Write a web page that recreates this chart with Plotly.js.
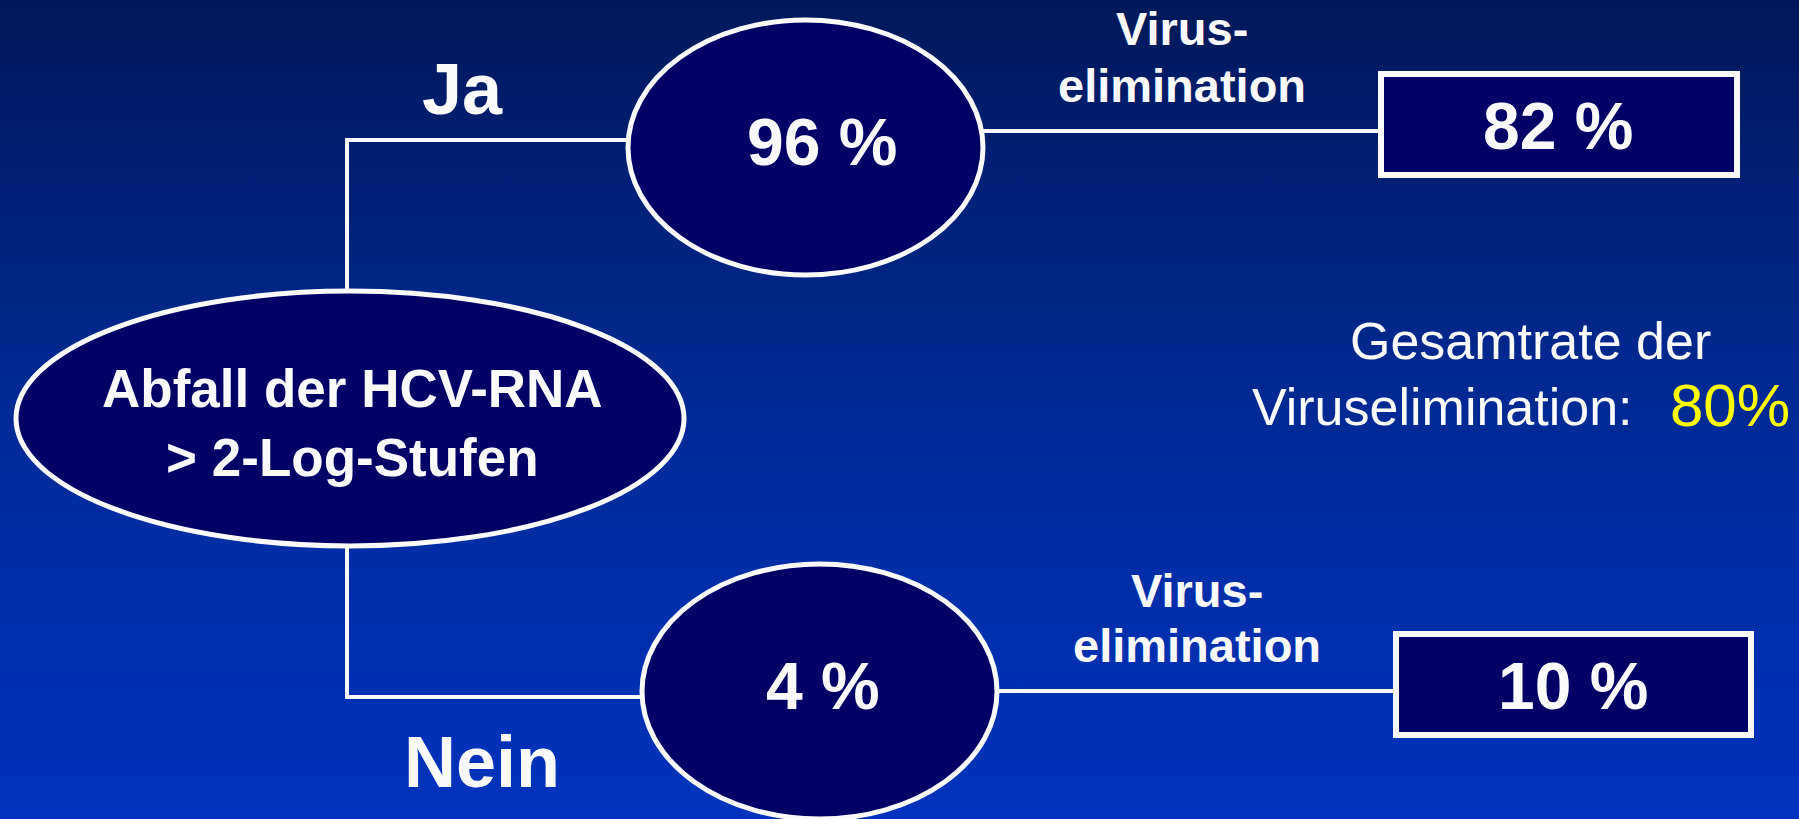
<!DOCTYPE html>
<html>
<head>
<meta charset="utf-8">
<script src="https://cdn.plot.ly/plotly-3.0.1.min.js"></script>
<style>
  html, body { margin: 0; padding: 0; }
  body {
    width: 1799px; height: 819px; overflow: hidden;
    background: linear-gradient(to bottom, #00185a 0%, #001f74 20%, #00288f 45%, #002ea8 70%, #0033bd 100%);
  }
  #chart { width: 1799px; height: 819px; }
</style>
</head>
<body>
<div id="chart"></div>
<script>
// ---- content ----
const rootLabel = ['Abfall der HCV-RNA', '> 2-Log-Stufen'];
const branchLabels = ['Ja', 'Nein'];
const responseShares = [96, 4];          // % of patients per branch
const eliminationRates = [82, 10];       // % virus elimination per branch
const eliminationLabel = ['Virus-', 'elimination'];
const overallLabel = ['Gesamtrate der', 'Viruselimination:'];
const overallRate = 80;

// ---- geometry / style (pixel coordinates, y downward) ----
const W = 1799, H = 819;
const geo = {
  root: {x0: 16, x1: 684, y0: 291, y1: 546, tx: 352, ty: 423},
  stemX: 347,
  branches: [
    {lineY: 140, ell: {x0: 628, x1: 983, y0: 20, y1: 275}, pctX: 822, pctY: 142,
     labX: 462, labY: 89, outY: 131,
     box: {x0: 1381, x1: 1737, y0: 74, y1: 175}, boxTX: 1558, boxTY: 126,
     elimX: 1182, elimY: [28, 85]},
    {lineY: 697, ell: {x0: 642, x1: 997, y0: 564, y1: 819}, pctX: 823, pctY: 686,
     labX: 482, labY: 762, outY: 691,
     box: {x0: 1396, x1: 1751, y0: 634, y1: 735}, boxTX: 1573, boxTY: 686,
     elimX: 1197, elimY: [590, 645]}
  ],
  overall: {x1: 1530, y1: 341, x2: 1250, y2: 407, xr: 1668, yr: 405}
};
const WHITE = '#fafafa', NAVY = '#000066', YELLOW = '#ffff00';
const FONT = 'Liberation Sans, Arial, Helvetica, sans-serif';

const shapes = [];
const annotations = [];
const lineStyle = {color: WHITE, width: 4};

// connectors
shapes.push({type: 'line', x0: geo.stemX, x1: geo.stemX, y0: geo.branches[0].lineY, y1: geo.root.y0, line: lineStyle});
shapes.push({type: 'line', x0: geo.stemX, x1: geo.stemX, y0: geo.root.y1, y1: geo.branches[1].lineY, line: lineStyle});

geo.branches.forEach((b, i) => {
  shapes.push({type: 'line', x0: geo.stemX - 2, x1: b.ell.x0 + 2, y0: b.lineY, y1: b.lineY, line: lineStyle});
  shapes.push({type: 'line', x0: b.ell.x1 - 2, x1: b.box.x0, y0: b.outY, y1: b.outY, line: lineStyle});
});

// root ellipse
shapes.push({type: 'circle', x0: geo.root.x0, x1: geo.root.x1, y0: geo.root.y0, y1: geo.root.y1,
  fillcolor: NAVY, line: {color: WHITE, width: 5}});
annotations.push({x: geo.root.tx, y: geo.root.ty, text: rootLabel.join('<br>'), showarrow: false,
  xanchor: 'center', yanchor: 'middle', align: 'center',
  font: {family: FONT, size: 53, color: WHITE, weight: 'bold'}});

geo.branches.forEach((b, i) => {
  shapes.push({type: 'circle', x0: b.ell.x0, x1: b.ell.x1, y0: b.ell.y0, y1: b.ell.y1,
    fillcolor: NAVY, line: {color: WHITE, width: 5}});
  shapes.push({type: 'rect', x0: b.box.x0, x1: b.box.x1, y0: b.box.y0, y1: b.box.y1,
    fillcolor: NAVY, line: {color: WHITE, width: 6}});
  annotations.push({x: b.pctX, y: b.pctY, text: responseShares[i] + ' %', showarrow: false,
    xanchor: 'center', yanchor: 'middle',
    font: {family: FONT, size: 66, color: WHITE, weight: 'bold'}});
  annotations.push({x: b.labX, y: b.labY, text: branchLabels[i], showarrow: false,
    xanchor: 'center', yanchor: 'middle',
    font: {family: FONT, size: 72, color: WHITE, weight: 'bold'}});
  annotations.push({x: b.boxTX, y: b.boxTY, text: eliminationRates[i] + ' %', showarrow: false,
    xanchor: 'center', yanchor: 'middle',
    font: {family: FONT, size: 66, color: WHITE, weight: 'bold'}});
  eliminationLabel.forEach((t, k) => {
    annotations.push({x: b.elimX, y: b.elimY[k], text: t, showarrow: false,
      xanchor: 'center', yanchor: 'middle',
      font: {family: FONT, size: 47, color: WHITE, weight: 'bold'}});
  });
});

// overall rate text
annotations.push({x: geo.overall.x1, y: geo.overall.y1, text: overallLabel[0], showarrow: false,
  xanchor: 'center', yanchor: 'middle', font: {family: FONT, size: 52, color: WHITE}});
annotations.push({x: geo.overall.x2, y: geo.overall.y2, text: overallLabel[1], showarrow: false,
  xanchor: 'left', yanchor: 'middle', font: {family: FONT, size: 52, color: WHITE}});
annotations.push({x: geo.overall.xr, y: geo.overall.yr, text: overallRate + '%', showarrow: false,
  xanchor: 'left', yanchor: 'middle', font: {family: FONT, size: 60, color: YELLOW}});

const layout = {
  width: W, height: H,
  margin: {l: 0, r: 0, t: 0, b: 0, pad: 0},
  paper_bgcolor: 'rgba(0,0,0,0)',
  plot_bgcolor: 'rgba(0,0,0,0)',
  xaxis: {range: [0, W], visible: false, fixedrange: true},
  yaxis: {range: [H, 0], visible: false, fixedrange: true},
  shapes: shapes,
  annotations: annotations,
  showlegend: false
};

Plotly.newPlot('chart', [], layout, {displayModeBar: false, staticPlot: true});
</script>
</body>
</html>
